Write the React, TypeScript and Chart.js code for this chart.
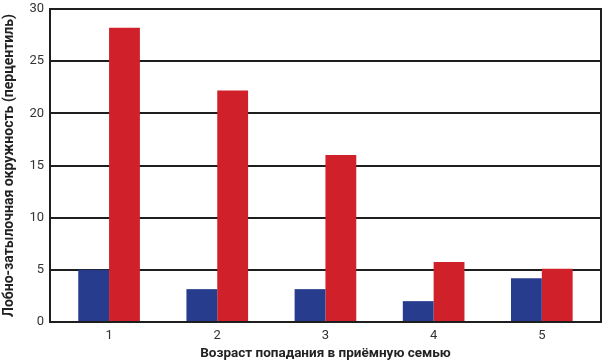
import React, { useEffect, useRef } from "react";
import { Chart, registerables } from "chart.js";

Chart.register(...registerables);

const categories = ["1", "2", "3", "4", "5"];
const blueValues = [5.0, 3.15, 3.15, 2.0, 4.2];
const redValues = [28.2, 22.2, 16.0, 5.75, 5.1];
const yTitle = "Лобно-затылочная окружность (перцентиль)";
const xTitle = "Возраст попадания в приёмную семью";

const rightBorder = {
  id: "rightBorder",
  afterDraw(chart: any) {
    const { ctx, chartArea } = chart;
    ctx.save();
    ctx.strokeStyle = "#1e1e1e";
    ctx.lineWidth = 2;
    ctx.beginPath();
    ctx.moveTo(chartArea.right, chartArea.top - 1);
    ctx.lineTo(chartArea.right, chartArea.bottom + 1);
    ctx.stroke();
    ctx.restore();
  },
};

export default function App() {
  const ref = useRef<HTMLCanvasElement>(null);
  useEffect(() => {
    document.body.style.margin = "0";
    const chart = new Chart(ref.current!, {
      type: "bar",
      data: {
        labels: categories,
        datasets: [
          { data: blueValues, backgroundColor: "#283c8e", barPercentage: 1, categoryPercentage: 0.57 },
          { data: redValues, backgroundColor: "#d02029", barPercentage: 1, categoryPercentage: 0.57 },
        ],
      },
      options: {
        animation: false,
        responsive: false,
        layout: { padding: { left: 0, right: 1, top: 9, bottom: 0 } },
        plugins: { legend: { display: false }, tooltip: { enabled: false } },
        scales: {
          x: {
            afterFit: (s: any) => { s.height = 39; },
            afterUpdate: (s: any) => { s._startValue = -0.546; s._valueRange = 5.093; },
            grid: { display: false, drawTicks: false },
            border: { color: "#1e1e1e", width: 2 },
            ticks: { color: "#333", font: { family: "Roboto", size: 13, lineHeight: 1 }, padding: 7 },
            title: {
              display: true,
              text: xTitle,
              color: "#222",
              font: { family: "Roboto", size: 13.5, weight: "bold", lineHeight: 1 },
              padding: { top: 0, bottom: 1 },
            },
          },
          y: {
            afterFit: (s: any) => { s.width = 50; s.paddingTop = 0; s.paddingBottom = 0; },
            min: 0,
            max: 30,
            ticks: { stepSize: 5, color: "#333", font: { family: "Roboto", size: 13 }, padding: 6 },
            grid: { color: "#1e1e1e", lineWidth: 2, drawTicks: false },
            border: { color: "#1e1e1e", width: 2 },
            title: {
              display: true,
              text: yTitle,
              color: "#222",
              font: { family: "Roboto", size: 14, weight: "bold" },
              padding: { top: 1, bottom: 0 },
            },
          },
        },
      },
      plugins: [rightBorder],
    });
    return () => chart.destroy();
  }, []);
  return (
    <div style={{ width: 602, height: 361 }}>
      <canvas ref={ref} width={602} height={361} />
    </div>
  );
}
